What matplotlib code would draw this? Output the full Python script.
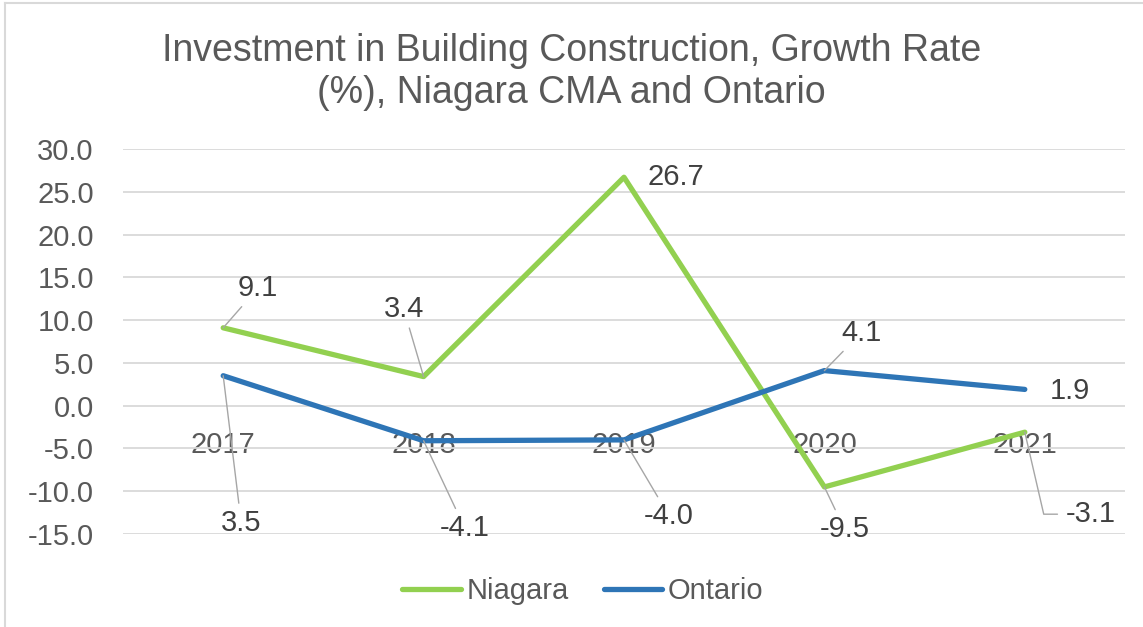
import matplotlib.pyplot as plt
from matplotlib.lines import Line2D

plt.rcParams['font.family'] = ['Liberation Sans', 'DejaVu Sans']

# data
years = ['2017', '2018', '2019', '2020', '2021']
niagara = [9.1, 3.4, 26.7, -9.5, -3.1]
ontario = [3.5, -4.1, -4.0, 4.1, 1.9]
y_ticks = [-15, -10, -5, 0, 5, 10, 15, 20, 25, 30]

green = '#92D050'
blue = '#2E75B6'
txt = '#595959'
grid = '#D9D9D9'
lead = '#A6A6A6'
fs = 21

fig = plt.figure(figsize=(11.43, 6.27), dpi=100)
ax = fig.add_axes([123 / 1143, 1 - 534 / 627, (1125 - 123) / 1143, (534 - 149) / 627])

x = list(range(len(years)))
ax.plot(x, niagara, color=green, lw=3.8, solid_capstyle='round', solid_joinstyle='round', label='Niagara', zorder=3)
ax.plot(x, ontario, color=blue, lw=3.8, solid_capstyle='round', solid_joinstyle='round', label='Ontario', zorder=3)

ax.set_xlim(-0.5, len(years) - 0.5)
ax.set_ylim(-15, 30)
ax.set_yticks(y_ticks)
ax.set_yticklabels([f'{v:.1f}' for v in y_ticks])
ax.yaxis.grid(True, color=grid, lw=1.3)
ax.set_axisbelow(True)

# category labels sit just under the zero line
ax.spines['bottom'].set_position(('data', 0))
for s in ax.spines.values():
    s.set_visible(False)
ax.set_xticks(x)
ax.set_xticklabels(years)
ax.tick_params(axis='x', length=0, pad=18, labelsize=fs, labelcolor=txt)
ax.tick_params(axis='y', length=0, pad=21, labelsize=fs, labelcolor=txt)

# data labels: (dx, dy) offsets in pixels, leader line yes/no
niagara_off = [(35, 40, True), (-20, 68, True), (52, 0, False), (20, -42, True), (66, -82, 'elbow')]
ontario_off = [(18, -147, True), (41, -87, True), (45, -76, True), (37, 38, True), (45, -2, False)]

def label(series, offs):
    for i, (v, (dx, dy, ld)) in enumerate(zip(series, offs)):
        kw = dict(xy=(i, v), xytext=(dx * 0.72, dy * 0.72), textcoords='offset points',
                  ha='center', va='center', fontsize=fs, color='#404040', zorder=4)
        if ld is True:
            kw['arrowprops'] = dict(arrowstyle='-', color=lead, lw=1, shrinkA=2, shrinkB=0)
        elif ld == 'elbow':
            kw['arrowprops'] = dict(arrowstyle='-', color=lead, lw=1, shrinkA=4, shrinkB=0,
                                    connectionstyle='angle,angleA=0,angleB=-77,rad=0')
        ax.annotate(f'{v:.1f}', **kw)

label(niagara, niagara_off)
label(ontario, ontario_off)

fig.suptitle('Investment in Building Construction, Growth Rate\n(%), Niagara CMA and Ontario',
             y=1 - 72 / 627, va='center', fontsize=27, color=txt, linespacing=1.2)

fig.legend(loc='center', bbox_to_anchor=(583 / 1143, 1 - 591 / 627), ncol=2, frameon=False,
           fontsize=fs, labelcolor=txt, handlelength=2.0, handletextpad=0.2, columnspacing=1.2)

# chart area border (left and top visible)
fig.add_artist(Line2D([5 / 1143, 5 / 1143], [0, 1 - 3 / 627], transform=fig.transFigure, color=grid, lw=1.5))
fig.add_artist(Line2D([5 / 1143, 1], [1 - 3 / 627, 1 - 3 / 627], transform=fig.transFigure, color=grid, lw=1.5))

fig.savefig('out.png', dpi=100, facecolor='white')
